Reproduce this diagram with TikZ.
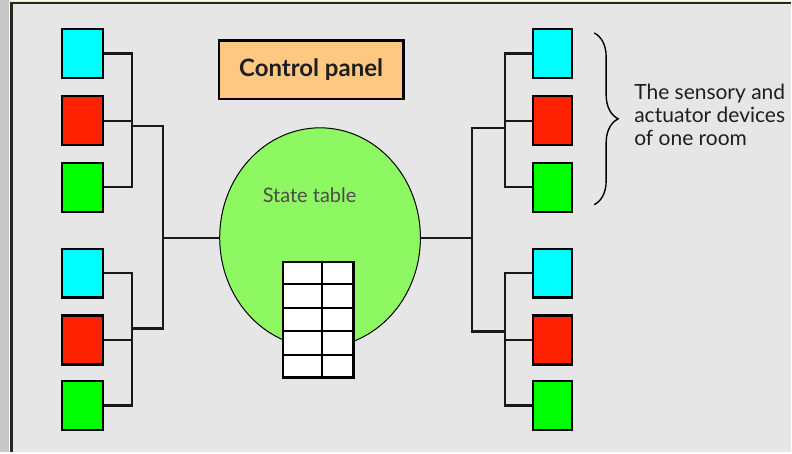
\documentclass[tikz,border=0pt]{standalone}
\usepackage{fontspec}
\setmainfont{Lato}
\usetikzlibrary{shapes.geometric,decorations.pathreplacing,calc}
\definecolor{panelgray}{HTML}{E6E6E6}
\definecolor{devcyan}{HTML}{00FFFF}
\definecolor{devred}{HTML}{FF2200}
\definecolor{devgreen}{HTML}{00FF00}
\definecolor{ctrlorange}{HTML}{FFC882}
\definecolor{tablegreen}{HTML}{8EF862}
\definecolor{textdark}{HTML}{1E1E1E}

\begin{document}
\begin{tikzpicture}[x=1pt,y=-1pt,
  dev/.style={draw, line width=2.2pt, minimum width=41pt, minimum height=49pt, inner sep=0pt},
  wire/.style={line width=2.2pt, black!90},
  cyandev/.style={dev, fill=devcyan},
  reddev/.style={dev, fill=devred},
  greendev/.style={dev, fill=devgreen}]

% window background and frame
\fill[panelgray] (0,0) rectangle (792,453);
\fill[black!22] (0,0) rectangle (9,453);
\fill[yellow!15!white] (9,0) rectangle (10.5,453);
\fill[yellow!15!white] (9,0) rectangle (792,1.5);
\draw[line width=2.2pt, black!85] (11.5,453) -- (11.5,3) -- (792,3);
\useasboundingbox (0,0) rectangle (792,453);

% control panel and state table
\node[draw, line width=2.2pt, fill=ctrlorange, minimum width=185pt, minimum height=59pt,
  font=\bfseries\fontsize{24}{28}\selectfont, text=textdark] (cp) at (311.5,70) {Control panel};
\node[ellipse, draw, line width=1pt, fill=tablegreen, minimum width=201pt,
  minimum height=220pt, inner sep=0pt] (st) at (320.5,238) {};
\node[font=\fontsize{20}{24}\selectfont, text=black!70] (stl) at (310,195) {State table};
\node[draw, line width=2.2pt, fill=white, minimum width=71pt, minimum height=116pt,
  inner sep=0pt] (tbl) at (318.5,320) {};
\draw[line width=2.2pt] ($(tbl.north west)!0.55!(tbl.north east)$) -- ($(tbl.south west)!0.55!(tbl.south east)$);
\foreach \r in {1,...,4}
  \draw[line width=2.2pt] ($(tbl.north west)!\r/5!(tbl.south west)$) -- ($(tbl.north east)!\r/5!(tbl.south east)$);

% devices of the four rooms
\node[cyandev] (lc1) at (82.5,53.5) {};
\node[reddev] (lr1) at (82.5,121) {};
\node[greendev] (lg1) at (82.5,187.5) {};
\node[cyandev] (lc2) at (82.5,273.5) {};
\node[reddev] (lr2) at (82.5,340.5) {};
\node[greendev] (lg2) at (82.5,406) {};
\node[cyandev, minimum width=39pt] (rc1) at (553.5,53.5) {};
\node[reddev, minimum width=39pt] (rr1) at (553.5,121) {};
\node[greendev, minimum width=39pt] (rg1) at (553.5,187.5) {};
\node[cyandev, minimum width=39pt] (rc2) at (553.5,273.5) {};
\node[reddev, minimum width=39pt] (rr2) at (553.5,340.5) {};
\node[greendev, minimum width=39pt] (rg2) at (553.5,406) {};

% wiring
\coordinate (lj1) at (132,126);
\coordinate (lj2) at (132,329);
\coordinate (lk) at (163,238);
\coordinate (rj1) at (506,128);
\coordinate (rj2) at (506,332);
\coordinate (rk) at (473,238);

\draw[wire] (lc1.east) -| (lj1) |- (lg1.east);
\draw[wire] (lr1.east) -- (lr1.east -| lj1);
\draw[wire] (lc2.east) -| (lj2) |- (lg2.east);
\draw[wire] (lr2.east) -- (lr2.east -| lj2);
\draw[wire] (lj1) -| (lk) |- (lj2);
\draw[wire] (lk) -- (st.west);

\draw[wire] (rc1.west) -| (rj1) |- (rg1.west);
\draw[wire] (rr1.west) -- (rr1.west -| rj1);
\draw[wire] (rc2.west) -| (rj2) |- (rg2.west);
\draw[wire] (rr2.west) -- (rr2.west -| rj2);
\draw[wire] (rj1) -| (rk) |- (rj2);
\draw[wire] (rk) -- (st.east);

% one room
\draw[line width=1.4pt, decorate, decoration={brace, amplitude=24pt}] (595,33) -- (595,205);
\node[anchor=north west, align=left, font=\fontsize{21}{23}\selectfont, text=textdark,
  inner sep=0pt] (room) at (635,84) {The sensory and\\actuator devices\\of one room};
\end{tikzpicture}
\end{document}
